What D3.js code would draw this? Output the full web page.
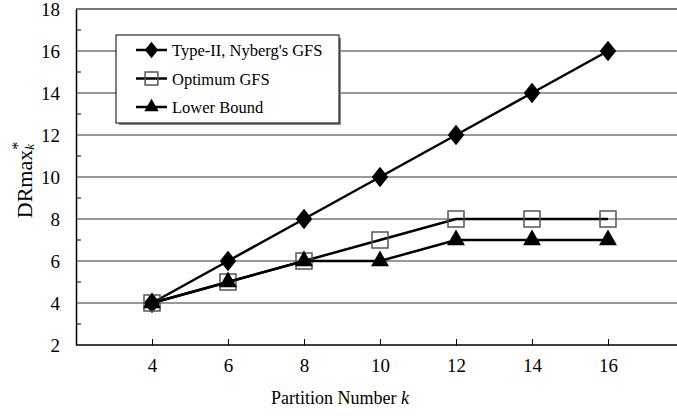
<!DOCTYPE html>
<html>
<head>
<meta charset="utf-8">
<script src="https://cdn.jsdelivr.net/npm/d3@7"></script>
<style>
  body { margin: 0; background: #fff; }
</style>
</head>
<body>
<svg id="chart" width="677" height="416"></svg>
<script>
// data
var partitions = [4, 6, 8, 10, 12, 14, 16];
var typeII     = [4, 6, 8, 10, 12, 14, 16];
var optimum    = [4, 5, 6, 7, 8, 8, 8];
var lowerBound = [4, 5, 6, 6, 7, 7, 7];
var seriesNames = ["Type-II, Nyberg's GFS", "Optimum GFS", "Lower Bound"];
var yTicks = [2, 4, 6, 8, 10, 12, 14, 16, 18];

var serif = "'Liberation Serif', 'Times New Roman', serif";
var svg = d3.select("#chart");

var x = d3.scaleLinear().domain([2, 18]).range([76, 684]);
var y = d3.scaleLinear().domain([2, 18]).range([345, 9]);

// grid lines
svg.append("g").selectAll("line")
    .data(yTicks.slice(1))
    .enter().append("line")
    .attr("x1", x(2)).attr("x2", 677)
    .attr("y1", function(d) { return y(d); })
    .attr("y2", function(d) { return y(d); })
    .attr("stroke", function(d) { return d == 18 ? "#777" : "#333"; })
    .attr("stroke-width", function(d) { return d == 18 ? 2 : 1; });

// y axis, minor ticks pointing inward
var yAxis = svg.append("g").attr("transform", "translate(" + x(2) + ",0)")
    .call(d3.axisLeft(y).tickValues(yTicks).tickSize(0).tickPadding(16));
yAxis.select(".domain").attr("stroke-width", 1.5);
svg.append("g").selectAll("line")
    .data([3, 5, 7, 9, 11, 13, 15, 17])
    .enter().append("line")
    .attr("x1", x(2)).attr("x2", x(2) + 5)
    .attr("y1", function(d) { return y(d); })
    .attr("y2", function(d) { return y(d); })
    .attr("stroke", "#000");

// x axis, ticks pointing up
var xAxis = svg.append("g").attr("transform", "translate(0," + y(2) + ")")
    .call(d3.axisBottom(x).tickValues(partitions).tickSize(-6).tickPadding(14));
xAxis.select(".domain").attr("stroke-width", 1.5).attr("d", "M" + x(2) + ",0H677");

svg.selectAll(".tick text").attr("font-family", null)
    .style("font-family", serif).style("font-size", "19px").style("fill", "#000");

// axis titles
var xt = svg.append("text").attr("x", 340).attr("y", 404)
    .attr("text-anchor", "middle").style("font-size", "18px");
xt.append("tspan").text("Partition Number ");
xt.append("tspan").style("font-style", "italic").text("k");

var yt = svg.append("text")
    .attr("transform", "translate(32,180) rotate(-90)")
    .attr("text-anchor", "middle").style("font-size", "22px");
yt.append("tspan").text("DRmax");
yt.append("tspan").attr("dy", -9).style("font-size", "16px").text("*");
yt.append("tspan").attr("dx", -8).attr("dy", 11).style("font-size", "13px")
    .style("font-style", "italic").text("k");

var line = d3.line()
    .x(function(d, i) { return x(partitions[i]); })
    .y(function(d) { return y(d); });

var allSeries = [typeII, optimum, lowerBound];
var symbols = [
    d3.symbol().type(d3.symbolDiamond).size(150),
    d3.symbol().type(d3.symbolSquare).size(256),
    d3.symbol().type(d3.symbolTriangle).size(140)
];

function drawMarker(g, s, cx, cy, k) {
    k = k || 1;
    var m = g.append("path")
        .attr("d", symbols[s]())
        .attr("transform", "translate(" + cx + "," + cy + ")" +
              (s == 0 ? " scale(" + 1.25 * k + "," + 0.9 * k + ")" : " scale(" + k + ")"));
    if (s == 1) m.attr("fill", "none").attr("stroke", "#555").attr("stroke-width", 1.5 / k);
    else m.attr("fill", "#000");
}

allSeries.forEach(function(vals, s) {
    var g = svg.append("g");
    g.append("path").datum(vals)
        .attr("d", line)
        .attr("fill", "none")
        .attr("stroke", "#000")
        .attr("stroke-width", 2.5);
    vals.forEach(function(v, i) {
        drawMarker(g, s, x(partitions[i]), y(v));
    });
});

// legend
var lg = svg.append("g");
lg.append("rect").attr("x", 119).attr("y", 38).attr("width", 222).attr("height", 87)
    .attr("fill", "#888");
lg.append("rect").attr("x", 116).attr("y", 35).attr("width", 223).attr("height", 88)
    .attr("fill", "#fff").attr("stroke", "#000").attr("stroke-width", 1);
seriesNames.forEach(function(name, s) {
    var ly = 50 + s * 28.5;
    lg.append("line").attr("x1", 136).attr("x2", 167).attr("y1", ly).attr("y2", ly)
        .attr("stroke", "#000").attr("stroke-width", 2.5);
    drawMarker(lg, s, 151.5, ly, 0.8);
    lg.append("text").attr("x", 172).attr("y", ly + 6).style("font-size", "16.5px").text(name);
});

svg.selectAll("text").style("font-family", serif).style("fill", "#000");
</script>
</body>
</html>
